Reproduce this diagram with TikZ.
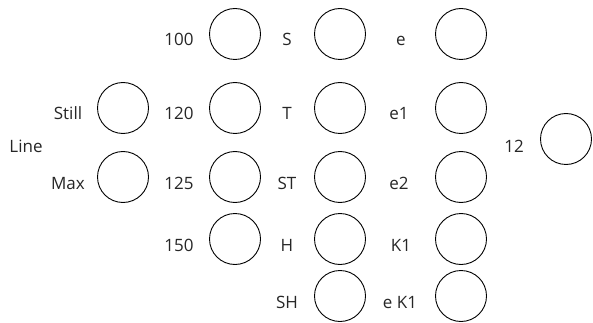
\documentclass[tikz,border=0pt]{standalone}
\usepackage{fontspec}
\setmainfont{Open Sans}
\tikzset{
  slot/.style={circle,draw=black,line width=0.9pt,inner sep=0pt,minimum size=51pt},
  tag/.style={anchor=base,inner sep=0pt,text=black!85,font=\fontsize{17}{20}\selectfont}
}

\begin{document}
\begin{tikzpicture}[x=1pt,y=-1pt]
  \useasboundingbox (0,0) rectangle (593,323);

  % line options
  \node[slot] (still) at (123,108) {};
  \node[slot] (max)   at (123,177) {};
  \node[tag] (tstill) at (68,120) {Still};
  \node[tag] (tmax)   at (68,189) {Max};
  \node[tag] (tline)  at (26,153) {Line};

  % numbers
  \node[slot] (n100) at (235,34) {};
  \node[slot] (n120) at (235,108) {};
  \node[slot] (n125) at (235,177) {};
  \node[slot] (n150) at (235,239) {};
  \node[tag] (t100) at (179,46) {100};
  \node[tag] (t120) at (179,120) {120};
  \node[tag] (t125) at (179,189) {125};
  \node[tag] (t150) at (179,251) {150};

  % letters
  \node[slot] (s)  at (340,34) {};
  \node[slot] (t)  at (340,108) {};
  \node[slot] (st) at (340,177) {};
  \node[slot] (h)  at (340,239) {};
  \node[slot] (sh) at (340,296) {};
  \node[tag] (ts)  at (287,46) {S};
  \node[tag] (tt)  at (287,120) {T};
  \node[tag] (tst) at (287,189) {ST};
  \node[tag] (th)  at (287,251) {H};
  \node[tag] (tsh) at (287,308) {SH};

  % e column
  \node[slot] (e)   at (461,34) {};
  \node[slot] (e1)  at (461,108) {};
  \node[slot] (e2)  at (461,177) {};
  \node[slot] (k1)  at (461,239) {};
  \node[slot] (ek1) at (461,296) {};
  \node[tag] (te)   at (401,46) {e};
  \node[tag] (te1)  at (399,120) {e1};
  \node[tag] (te2)  at (399,189) {e2};
  \node[tag] (tk1)  at (401,251) {K1};
  \node[tag] (tek1) at (400,308) {e K1};

  % twelve
  \node[slot] (n12) at (566,139) {};
  \node[tag] (t12)  at (514,152) {12};
\end{tikzpicture}
\end{document}
